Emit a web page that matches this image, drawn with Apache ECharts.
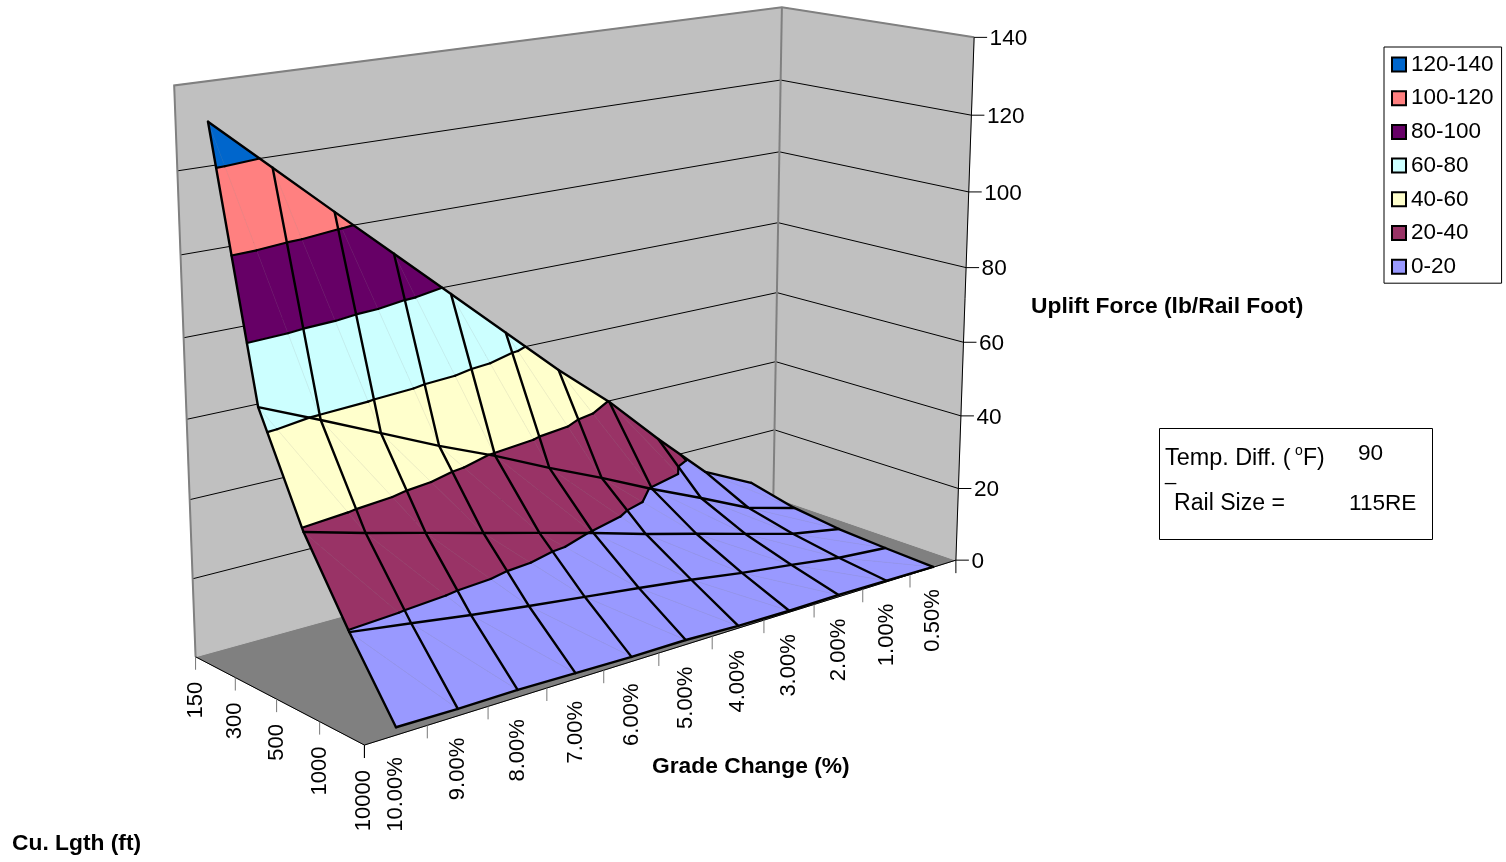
<!DOCTYPE html>
<html><head><meta charset="utf-8"><style>html,body{margin:0;padding:0;background:#fff}#c{width:1506px;height:862px}</style>
<script src="https://cdn.jsdelivr.net/npm/echarts@6/dist/echarts.min.js"></script></head><body><div id="c"></div>
<script>
const lengths=['150','300','500','1000','10000'];
const grades=['10.00%','9.00%','8.00%','7.00%','6.00%','5.00%','4.00%','3.00%','2.00%','1.00%','0.50%'];
const zTicks=[0,20,40,60,80,100,120,140];
const bandNames=['120-140','100-120','80-100','60-80','40-60','20-40','0-20'];
const bandColors=['#0066CC','#FF8080','#660066','#CCFFFF','#FFFFCC','#993366','#9999FF'];
const bandLows=[120,100,80,60,40,20,0];
const force150=[130.5,117.3,104.1,91.0,77.9,64.8,51.7,39.7,25.9,12.9,6.1];
const force300=[65.3,58.8,52.1,45.4,39.3,32.6,26.3,19.6,13.4,6.9,3.1];
const force500=[39.1,35.0,31.2,27.3,23.5,19.6,15.5,11.7,7.8,4.0,1.5];
const force1000=[19.6,17.5,15.3,13.4,11.6,9.8,7.9,5.7,3.9,1.9,0.7];
const force10000=[1.9,1.7,1.8,1.5,1.2,1.2,0.6,0.4,0.5,0.3,0.1];
const Z=[force150,force300,force500,force1000,force10000];
const FONT='"Liberation Sans",Arial,sans-serif';
const corners=[[0,0,0,195,657],[1,0,0,364,745],[1,1,0,955,560],[0,1,0,773,497],[1,1,1,973,38],[0,1,1,782,7],[0,0,1,173,85]];
const fit=[...corners,...corners,...corners,
[1,1,1/7,960,488],[1,1,2/7,963,416],[1,1,3/7,965,342],[1,1,4/7,967,267],[1,1,5/7,970,192],[1,1,6/7,971,115],
[0,1,1/7,774,431],[0,1,2/7,775,362],[0,1,3/7,777,293],[0,1,4/7,778,222],[0,1,5/7,780,152],[0,1,6/7,781,80],
[0,0,1/7,193,578],[0,0,2/7,191,500],[0,0,3/7,188,419],[0,0,4/7,185,338],[0,0,5/7,182,256],[0,0,6/7,178,171]];
function solveP(){const n=11,A=[...Array(n)].map(()=>Array(n+1).fill(0));
 const add=(r,t)=>{for(let a=0;a<n;a++){for(let b=0;b<n;b++)A[a][b]+=r[a]*r[b];A[a][n]+=r[a]*t;}};
 fit.forEach(([u,v,w,x,y])=>{add([u,v,w,1,0,0,0,0,-x*u,-x*v,-x*w],x);add([0,0,0,0,u,v,w,1,-y*u,-y*v,-y*w],y);});
 for(let c=0;c<n;c++){let m=c;for(let r=c+1;r<n;r++)if(Math.abs(A[r][c])>Math.abs(A[m][c]))m=r;[A[c],A[m]]=[A[m],A[c]];
  for(let r=0;r<n;r++)if(r!==c){const f=A[r][c]/A[c][c];for(let k=c;k<=n;k++)A[r][k]-=f*A[c][k];}}
 return A.map((r,i)=>r[n]/r[i]);}
const P=solveP();
function proj(u,v,w){const d=P[8]*u+P[9]*v+P[10]*w+1;return [(P[0]*u+P[1]*v+P[2]*w+P[3])/d,(P[4]*u+P[5]*v+P[6]*w+P[7])/d];}
const U=j=>j/(lengths.length-1),V=i=>(i+.5)/grades.length;
const c=echarts.init(document.getElementById('c'),null,{renderer:'canvas'});
function P3(api,u,v,w){return api.coord(proj(u,v,w));}
function tri(j,i,t){const A=[U(j),V(i),Z[j][i]],B=[U(j),V(i+1),Z[j][i+1]],C=[U(j+1),V(i+1),Z[j+1][i+1]],D=[U(j+1),V(i),Z[j+1][i]];return t?[A,C,D]:[A,B,C];}
function clip(poly,lv,keepAbove){const o=[];for(let k=0;k<poly.length;k++){const a=poly[k],b=poly[(k+1)%poly.length];const ia=keepAbove?a[2]>=lv:a[2]<=lv,ib=keepAbove?b[2]>=lv:b[2]<=lv;
 if(ia)o.push(a);if(ia!==ib){const f=(lv-a[2])/(b[2]-a[2]);o.push([a[0]+f*(b[0]-a[0]),a[1]+f*(b[1]-a[1]),lv]);}}return o;}
const cells=[];for(let j=0;j<lengths.length-1;j++)for(let i=0;i<grades.length-1;i++){cells.push([j,i,0]);cells.push([j,i,1]);}
const series=[];
const LF='22px '+FONT,TF='22.6px '+FONT;
series.push({type:'custom',name:'walls',coordinateSystem:'cartesian2d',silent:true,data:[[0,0]],clip:false,z:1,renderItem(p,api){
 const ch=[];const poly=(pts,fill)=>ch.push({type:'polygon',shape:{points:pts.map(q=>P3(api,...q))},style:{fill,stroke:fill,lineWidth:1}});
 poly([[0,0,0],[0,1,0],[1,1,0],[1,0,0]],'#808080');
 poly([[0,0,0],[0,1,0],[0,1,1],[0,0,1]],'#C0C0C0');
 poly([[0,1,0],[1,1,0],[1,1,1],[0,1,1]],'#C0C0C0');
 const line=(pts,stroke,w)=>ch.push({type:'polyline',shape:{points:pts},style:{fill:null,stroke,lineWidth:w}});
 zTicks.slice(1,-1).forEach(t=>{const w=t/140;line([P3(api,0,0,w),P3(api,0,1,w),P3(api,1,1,w)],'#000',1);});
 line([P3(api,0,0,0),P3(api,0,0,1),P3(api,0,1,1),P3(api,1,1,1)],'#808080',2);
 line([P3(api,0,1,0),P3(api,0,1,1)],'#808080',2);
 line([P3(api,1,1,0),P3(api,1,1,1)],'#000',1);
 line([P3(api,0,0,0),P3(api,1,0,0),P3(api,1,1,0)],'#000',1);
 zTicks.forEach(t=>{const q=P3(api,1,1,t/140);line([q,[q[0]+13,q[1]]],'#000',1);
  ch.push({type:'text',style:{x:q[0]+15.5,y:q[1]+1.5,text:String(t),fill:'#000',font:TF,textAlign:'left',textVerticalAlign:'middle'}});});
 lengths.forEach((l,j)=>{const q=P3(api,U(j),0,0);line([q,[q[0],q[1]+13]],j===lengths.length-1?'#000':'#777',1);
  ch.push({type:'text',x:q[0],y:q[1]+25,rotation:Math.PI/2,style:{x:0,y:0,text:l,fill:'#000',font:LF,textAlign:'right',textVerticalAlign:'middle'}});});
 for(let i=0;i<=grades.length;i++){const q=P3(api,1,i/grades.length,0);line([q,[q[0],q[1]+13]],(i===grades.length||i===0)?'#000':'#777',1);}
 grades.forEach((g,i)=>{const q=P3(api,1,V(i),0);ch.push({type:'text',x:q[0],y:q[1]+22,rotation:Math.PI/2,style:{x:0,y:0,text:g,fill:'#000',font:LF,textAlign:'right',textVerticalAlign:'middle'}});});
 return {type:'group',children:ch};}});
bandNames.forEach((n,b)=>{const lo=bandLows[b],hi=lo+20;
 series.push({type:'custom',name:n,coordinateSystem:'cartesian2d',silent:true,clip:false,z:2,data:cells,itemStyle:{color:bandColors[b]},renderItem(p,api){
  const t=tri(api.value(0),api.value(1),api.value(2));let q=clip(t,lo,true);if(q.length)q=clip(q,hi,false);if(q.length<3)return null;
  return {type:'polygon',shape:{points:q.map(v=>P3(api,v[0],v[1],v[2]/140))},style:{fill:bandColors[b],stroke:bandColors[b],lineWidth:.6}};}});});
series.push({type:'custom',name:'mesh',coordinateSystem:'cartesian2d',silent:true,clip:false,z:3,data:[[0,0]],renderItem(p,api){
 const ch=[];const line=(pts,w,s)=>ch.push({type:'polyline',shape:{points:pts},style:{fill:null,stroke:s||'#000',lineWidth:w,lineJoin:'round',lineCap:'round'}});
 for(let j=0;j<lengths.length-1;j++)for(let i=0;i<grades.length-1;i++)line([P3(api,U(j),V(i),Z[j][i]/140),P3(api,U(j+1),V(i+1),Z[j+1][i+1]/140)],.5,'rgba(128,128,128,.22)');
 cells.forEach(([j,i,t])=>{const T=tri(j,i,t);bandLows.forEach(lv=>{if(!lv)return;const s=[];for(let k=0;k<3;k++){const a=T[k],b=T[(k+1)%3];if((a[2]<lv)!==(b[2]<lv)){const f=(lv-a[2])/(b[2]-a[2]);s.push([a[0]+f*(b[0]-a[0]),a[1]+f*(b[1]-a[1]),lv]);}}
   if(s.length===2)line(s.map(v=>P3(api,v[0],v[1],v[2]/140)),2.2);});});
 Z.forEach((r,j)=>line(r.map((z,i)=>P3(api,U(j),V(i),z/140)),2.4));
 grades.forEach((g,i)=>line(Z.map((r,j)=>P3(api,U(j),V(i),r[i]/140)),2.4));
 return {type:'group',children:ch};}});
const txt=(x,y,text,o={})=>({type:'text',x,y:y+1.5,style:Object.assign({text,fill:'#000',font:TF,textVerticalAlign:'middle'},o)});
const bold='bold 22.8px '+FONT;
c.setOption({animation:false,
 grid:{left:0,right:0,top:0,bottom:0,show:false},
 xAxis:{type:'value',min:0,max:1506,show:false},yAxis:{type:'value',min:0,max:862,inverse:true,show:false},
 legend:{data:bandNames,orient:'vertical',left:1384,top:47,width:103,padding:[4,8,3,7],itemWidth:14,itemHeight:14,itemGap:6.7,icon:'rect',borderColor:'#000',borderWidth:1,
  itemStyle:{borderColor:'#000',borderWidth:2},selectedMode:false,textStyle:{fontFamily:'"Liberation Sans"',fontSize:22.5,lineHeight:22,color:'#000',padding:[5,0,0,0]}},
 series,
 graphic:[
  {type:'rect',shape:{x:1159.5,y:428.5,width:273,height:111},style:{fill:'#fff',stroke:'#000',lineWidth:1}},
  txt(1165,457,'Temp. Diff. (',{font:'23.4px '+FONT}),txt(1295,450,'o',{font:'14px '+FONT}),txt(1303,457,'F)',{font:'23px '+FONT}),txt(1358,452,'90'),
  txt(1165,473,'_',{font:'20px '+FONT}),txt(1174,502,'Rail Size =',{font:'23.1px '+FONT}),txt(1349,502,'115RE'),
  txt(1031,305,'Uplift Force (lb/Rail Foot)',{font:bold}),txt(652,765,'Grade Change (%)',{font:bold}),txt(12,842,'Cu. Lgth (ft)',{font:bold})
 ]});
</script></body></html>
